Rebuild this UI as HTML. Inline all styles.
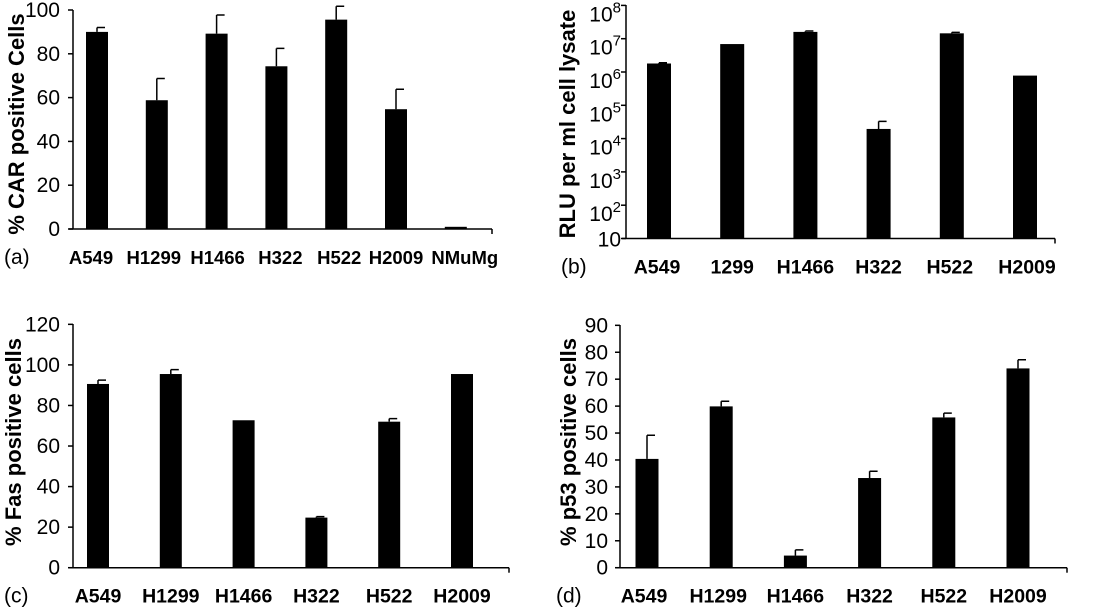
<!DOCTYPE html>
<html><head><meta charset="utf-8"><style>
html,body{margin:0;padding:0;background:#fff;}
svg{display:block;font-family:"Liberation Sans",Arial,sans-serif;}
</style></head><body>
<svg id="c" width="1095" height="607" viewBox="0 0 1095 607" xmlns="http://www.w3.org/2000/svg"></svg>
<script>
const catsA=["A549","H1299","H1466","H322","H522","H2009","NMuMg"];
const valsA=[90,58.8,89.2,74.3,95.6,54.7,1];
const errA=[92,68.7,97.7,82.5,101.7,63.8,null];
const ticksA=[0,20,40,60,80,100];

const catsB=["A549","1299","H1466","H322","H522","H2009"];
const valsB=[1.8e6,6.9e6,1.6e7,1.95e4,1.45e7,7.8e5];
const errB=[1.9e6,null,1.7e7,3.3e4,1.55e7,null];
const ticksB=[1,2,3,4,5,6,7,8];

const catsC=["A549","H1299","H1466","H322","H522","H2009"];
const valsC=[90.6,95.5,72.7,24.7,72,95.5];
const errC=[92.5,97.7,null,25.2,73.5,null];
const ticksC=[0,20,40,60,80,100,120];

const catsD=["A549","H1299","H1466","H322","H522","H2009"];
const valsD=[40.4,59.9,4.5,33.3,55.8,74];
const errD=[49.2,61.8,6.6,35.8,57.4,77.2];
const ticksD=[0,10,20,30,40,50,60,70,80,90];

const NS="http://www.w3.org/2000/svg";
const svg=document.getElementById('c');
function mk(tag,attrs,parent){const e=document.createElementNS(NS,tag);for(const k in attrs)e.setAttribute(k,attrs[k]);(parent||svg).appendChild(e);return e;}

function panel(p){
  const g=mk('g',{});
  
  
  const y=p.y;
  const xc=i=>p.c0+i*p.step;
  const ya=mk('line',{x1:p.left,y1:p.top,x2:p.left,y2:p.bottom,stroke:'#000','stroke-width':1.5},g);
  
  
  const xa=mk('line',{x1:p.left-4,y1:p.bottom,x2:p.right,y2:p.bottom,stroke:'#000','stroke-width':1.5},g);
  
  
  mk('line',{x1:p.right,y1:p.bottom,x2:p.right,y2:p.bottom+5,stroke:'#000','stroke-width':1.5},g);
  p.ticks.forEach(t=>{
    const ty=y(p.log?Math.pow(10,t):t);
    mk('line',{x1:p.left-5,y1:ty,x2:p.left,y2:ty,stroke:'#000','stroke-width':1.5},g);
    let by=ty+7;
    if(p.log) by = t>1 ? ty+16 : ty+8;
    const tx=mk('text',{x:p.tickR,y:by,'text-anchor':'end','font-size':21,fill:'#000'},g);
    
    
    if(p.log&&t>1){
      const s1=mk('tspan',{},tx);s1.textContent='10';
      const s2=mk('tspan',{dy:-9,'font-size':15},tx);s2.textContent=String(t);
    } else tx.textContent=p.log?'10':String(t);
  });
  p.cats.forEach((c,i)=>{
    const cx=xc(i), top=y(p.vals[i]);
    const b=mk('rect',{x:cx-p.bw/2,y:top,width:p.bw,height:p.bottom-top,fill:'#000'},g);
    
    
    if(p.errs[i]!=null){
      const ey=y(p.errs[i]);
      const e=mk('path',{d:`M${cx},${top} V${ey} M${cx},${ey} H${cx+8}`,stroke:'#000','stroke-width':1.5,fill:'none'},g);
      
      
    }
    const l=mk('text',{x:cx+p.lblOff[i],y:p.bottom+35,'text-anchor':'middle','font-size':p.lfs,'font-weight':'bold',fill:'#000'},g);
    l.textContent=c;
    
    
  });
  const tt=mk('text',{x:0,y:0,transform:`translate(${p.titleX},${p.titleY}) rotate(-90)`,'text-anchor':'middle','font-size':22,'font-weight':'bold',fill:'#000'},g);
  tt.textContent=p.title;
  
  
  const pl=mk('text',{x:p.plX,y:p.bottom+35,'font-size':21,fill:'#000'},g);
  pl.textContent='('+p.id+')';
  
  
}

panel({id:'a',cats:catsA,vals:valsA,errs:errA,ticks:ticksA,left:73,right:492,top:10,bottom:229,lfs:18.5,
  y:v=>229-v*2.19,c0:97,step:59.8,bw:22,lblOff:[-6,-3,1,4,3,0,9],tickR:60,title:'% CAR positive Cells',titleX:24,titleY:124,plX:4});
panel({id:'b',cats:catsB,vals:valsB,errs:errB,ticks:ticksB,log:true,left:626,right:1055,top:5,bottom:238.5,lfs:19.5,
  y:v=>238.5-(Math.log10(v)-1)*33.3,c0:659,step:73.2,bw:24,lblOff:[-2,0,0,0,-2,2],tickR:621,title:'RLU per ml cell lysate',titleX:575,titleY:124,plX:561});
panel({id:'c',cats:catsC,vals:valsC,errs:errC,ticks:ticksC,left:73,right:509,top:324,bottom:567.7,lfs:19.5,
  y:v=>567.7-v*2.028,c0:98,step:72.8,bw:22,lblOff:[0,0,0,0,0,0],tickR:60,title:'%  Fas positive cells',titleX:21,titleY:442,plX:4});
panel({id:'d',cats:catsD,vals:valsD,errs:errD,ticks:ticksD,left:620,right:1067,top:325,bottom:567.7,lfs:19.5,
  y:v=>567.7-v*2.693,c0:647,step:74.2,bw:23,lblOff:[-3,-3,0,0,0,0],tickR:608,title:'% p53 positive cells',titleX:576,titleY:442,plX:556});
</script>
</body></html>
